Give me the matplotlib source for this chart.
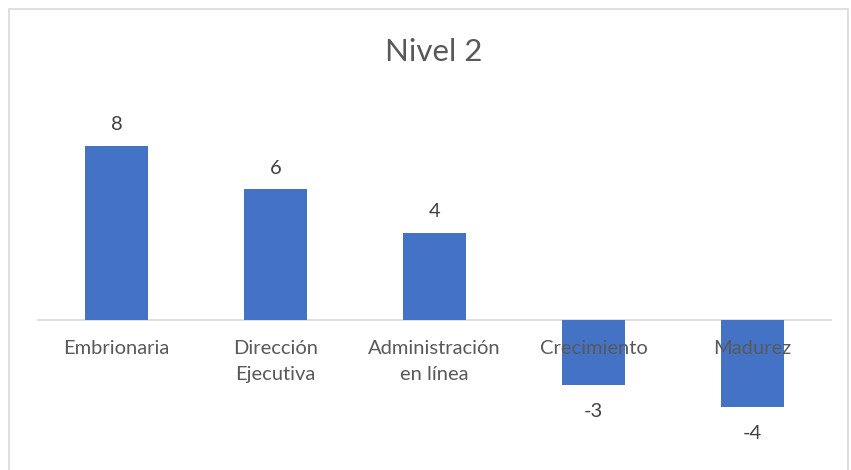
import matplotlib.pyplot as plt
from matplotlib.patches import Rectangle

# Datos
categorias = ["Embrionaria", "Dirección\nEjecutiva", "Administración\nen línea", "Crecimiento", "Madurez"]
valores = [8, 6, 4, -3, -4]

azul = "#4472C4"
gris_texto = "#595959"

plt.rcParams['font.family'] = ['Lato', 'DejaVu Sans']

fig = plt.figure(figsize=(8.51, 4.70), dpi=100)
W, H = 851, 470

# Marco del gráfico
fig.patches.append(Rectangle((9 / W, -0.01), 839 / W, 1.0 - 9 / H + 0.01, transform=fig.transFigure,
                             fill=False, edgecolor="#d9d9d9", linewidth=1.2))

# Área de trazado (en píxeles)
x0, x1 = 37, 832
y_top, y_bot = 102, 450
ax = fig.add_axes([x0 / W, (H - y_bot) / H, (x1 - x0) / W, (y_bot - y_top) / H])

pos = range(len(categorias))
barras = ax.bar(pos, valores, width=0.4, color=azul, zorder=1)
ax.set_xlim(-0.5, len(categorias) - 0.5)
ax.set_ylim(-6, 10)
ax.axhline(0, color="#d9d9d9", linewidth=1.2, zorder=0.5)

for s in ax.spines.values():
    s.set_visible(False)
ax.set_yticks([])
ax.set_xticks([])

# Etiquetas de categoría justo debajo del eje
for i, c in enumerate(categorias):
    ax.text(i, -0.95, c, ha="center", va="top", fontsize=14.5, color=gris_texto,
            linespacing=1.6, zorder=3)

# Etiquetas de datos
for b, v in zip(barras, valores):
    off = 9 if v > 0 else -13
    ax.annotate(str(v), (b.get_x() + b.get_width() / 2, v), xytext=(0, off),
                textcoords="offset points", ha="center",
                va="bottom" if v > 0 else "top", fontsize=14.5, color="#404040")

fig.text(434 / W, 1 - 52 / H, "Nivel 2", ha="center", va="center", fontsize=22.5, color=gris_texto)

fig.savefig("out.png", dpi=100)
